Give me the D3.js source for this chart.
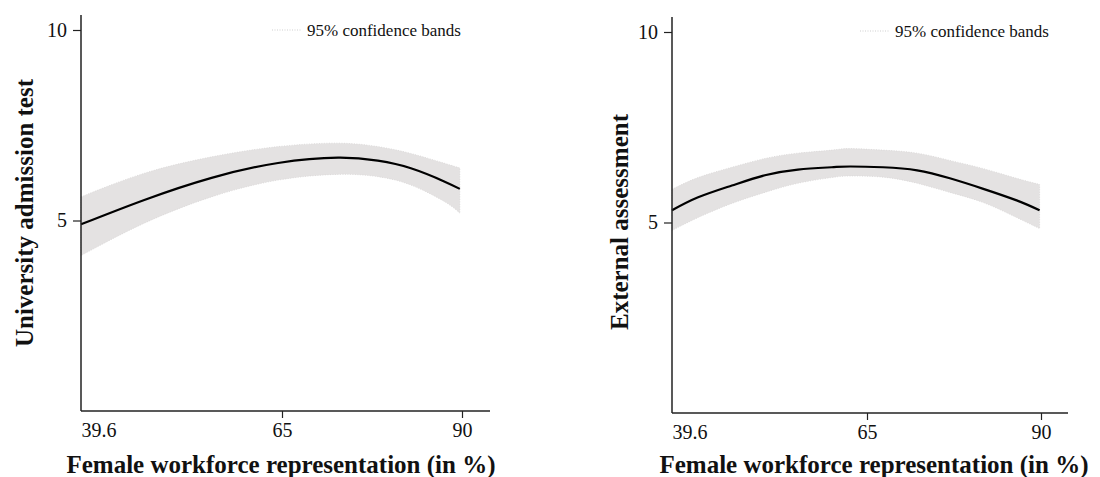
<!DOCTYPE html>
<html>
<head>
<meta charset="utf-8">
<script src="https://cdn.jsdelivr.net/npm/d3@7/dist/d3.min.js"></script>
<style>
  html, body { margin: 0; padding: 0; background: #fff; }
  svg { display: block; }
</style>
</head>
<body>
<svg id="chart" width="1100" height="477"></svg>
<script>
// ---- data ----
const xTickValues = [39.6, 65, 90];
const yTickValues = [5, 10];
const xTitle = "Female workforce representation (in %)";
const legendLabel = "95% confidence bands";

// Panel 1: University admission test
const uniX   = [39.6, 47.6, 56.1, 64.5, 72.8, 78.3, 82.9, 87.6, 89.7];
const uniFit = [4.90, 5.54, 6.12, 6.51, 6.65, 6.57, 6.37, 6.02, 5.83];
const uniLo  = [4.08, 4.93, 5.62, 6.06, 6.21, 6.15, 5.93, 5.49, 5.19];
const uniHi  = [5.62, 6.24, 6.67, 6.94, 7.03, 6.94, 6.76, 6.50, 6.38];

// Panel 2: External assessment
const extX   = [39.6, 43.0, 47.4, 51.7, 56.0, 60.4, 62.8, 67.3, 72.2, 76.9, 81.6, 86.5, 89.8];
const extFit = [5.32, 5.66, 5.97, 6.24, 6.39, 6.45, 6.47, 6.45, 6.37, 6.16, 5.89, 5.58, 5.32];
const extLo  = [4.79, 5.13, 5.50, 5.79, 6.03, 6.18, 6.22, 6.19, 6.03, 5.79, 5.53, 5.13, 4.84];
const extHi  = [5.87, 6.18, 6.45, 6.68, 6.82, 6.90, 6.94, 6.90, 6.82, 6.63, 6.42, 6.16, 6.00];

const FONT = "Liberation Serif";
const svg = d3.select("#chart");

function drawPanel(p) {
  const g = svg.append("g");
  const x = d3.scaleLinear().domain(xTickValues).range(p.xRange);
  const y = d3.scaleLinear().domain([0, 10]).range([p.yBottom, p.y10]);
  const rows = p.xs.map((v, i) => ({ x: v, fit: p.fit[i], lo: p.lo[i], hi: p.hi[i] }));

  // band
  const area = d3.area().curve(d3.curveNatural)
    .x(d => x(d.x)).y0(d => y(d.lo)).y1(d => y(d.hi));
  g.append("path").datum(rows).attr("d", area)
    .attr("fill", "#e4e2e2").attr("stroke", "#d8d6d6")
    .attr("stroke-width", 0.8).attr("stroke-dasharray", "1,1.5");

  // fitted line
  const line = d3.line().curve(d3.curveNatural).x(d => x(d.x)).y(d => y(d.fit));
  g.append("path").datum(rows).attr("d", line)
    .attr("fill", "none").attr("stroke", "#000").attr("stroke-width", 2.2);

  // y axis
  const yAxis = d3.axisLeft(y).tickValues(yTickValues).tickSize(8).tickPadding(6)
    .tickFormat(d3.format("d"));
  const ya = g.append("g").attr("transform", `translate(${p.xRange[0]},0)`).call(yAxis)
    .attr("font-family", FONT).attr("font-size", 20);
  ya.select(".domain").remove();
  ya.selectAll(".tick line").attr("stroke", "#222").attr("stroke-width", 1.2);
  ya.selectAll(".tick text").style("font-size", "20px")
    .style("font-family", FONT).attr("fill", "#111");
  g.append("line").attr("x1", p.xRange[0]).attr("x2", p.xRange[0])
    .attr("y1", p.yTop).attr("y2", p.yBottom)
    .attr("stroke", "#222").attr("stroke-width", 1.5);

  // x axis
  const xAxis = d3.axisBottom(x).tickValues(xTickValues).tickSize(7).tickPadding(5)
    .tickFormat(d => String(d));
  const xa = g.append("g").attr("transform", `translate(0,${p.yBottom})`).call(xAxis)
    .attr("font-family", FONT).attr("font-size", 20);
  xa.select(".domain").remove();
  xa.selectAll(".tick line").attr("stroke", "#222").attr("stroke-width", 1.2)
    .attr("display", d => d === xTickValues[0] ? "none" : null);
  xa.selectAll(".tick text").style("font-size", "20px")
    .style("font-family", FONT).attr("fill", "#111")
    .attr("text-anchor", d => d === xTickValues[0] ? "start" : "middle");
  g.append("line").attr("x1", p.xRange[0]).attr("x2", p.xEnd)
    .attr("y1", p.yBottom).attr("y2", p.yBottom)
    .attr("stroke", "#222").attr("stroke-width", 1.5);

  // titles
  g.append("text").attr("x", p.xTitleX).attr("y", 473)
    .attr("text-anchor", "middle").style("font-weight", "bold").style("font-size", "25px")
    .style("font-family", FONT).attr("fill", "#111")
    .text(xTitle);
  g.append("text").attr("transform", `translate(${p.yTitleX},${p.yTitleY}) rotate(-90)`)
    .attr("text-anchor", "middle").style("font-weight", "bold").style("font-size", "25px")
    .style("font-family", FONT).attr("fill", "#111")
    .text(p.yTitle);

  // legend
  g.append("line").attr("x1", p.legX).attr("x2", p.legX + 30)
    .attr("y1", p.legY - 6).attr("y2", p.legY - 6)
    .attr("stroke", "#cfcfcf").attr("stroke-width", 1).attr("stroke-dasharray", "1,1.5");
  g.append("text").attr("x", p.legX + 35).attr("y", p.legY)
    .style("font-size", "17px").style("font-family", FONT).attr("fill", "#111")
    .text(legendLabel);
}

drawPanel({
  xs: uniX, fit: uniFit, lo: uniLo, hi: uniHi,
  xRange: [81, 282, 462], xEnd: 490,
  yBottom: 411, y10: 30, yTop: 15,
  yTitle: "University admission test", yTitleX: 33, yTitleY: 213,
  xTitleX: 281, legX: 272, legY: 36
});

drawPanel({
  xs: extX, fit: extFit, lo: extLo, hi: extHi,
  xRange: [672, 867, 1041], xEnd: 1068,
  yBottom: 413, y10: 32, yTop: 17,
  yTitle: "External assessment", yTitleX: 628, yTitleY: 222,
  xTitleX: 874, legX: 860, legY: 37
});
</script>
</body>
</html>
